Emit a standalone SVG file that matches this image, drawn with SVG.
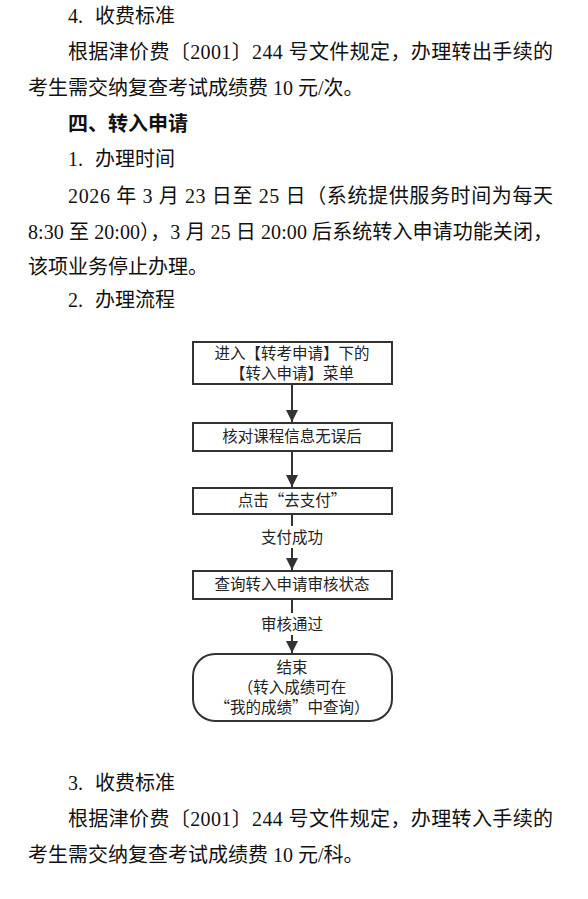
<svg xmlns="http://www.w3.org/2000/svg" width="588" height="899" viewBox="0 0 588 899">
<defs>
<style>
.b{font-family:"Liberation Serif","Noto Sans CJK SC",serif;font-size:20px;fill:#111}
.h{font-family:"Noto Sans CJK SC",sans-serif;font-size:20px;font-weight:bold;fill:#111}
.f{font-family:"Noto Sans CJK SC",sans-serif;font-size:15.5px;fill:#222;text-anchor:middle}
.box{fill:#fff;stroke:#333;stroke-width:2}
.ln{stroke:#333;stroke-width:2;fill:none}
</style>
<marker id="ar" viewBox="0 0 12 12" refX="12" refY="6" markerWidth="12" markerHeight="12" markerUnits="userSpaceOnUse" orient="auto">
<path d="M0,0 L12,6 L0,12 z" fill="#333"/>
</marker>
</defs>
<rect width="588" height="899" fill="#fff"/>
<g id="text-top">
<text class="b" x="68" y="23">4.</text><text class="b" x="95" y="23">收费标准</text>
<text class="b" x="68" y="59" textLength="485" lengthAdjust="spacing">根据津价费〔2001〕244 号文件规定，办理转出手续的</text>
<text class="b" x="28" y="95">考生需交纳复查考试成绩费 10 元/次。</text>
<text class="h" x="68" y="131">四、转入申请</text>
<text class="b" x="68" y="166">1.</text><text class="b" x="95" y="166">办理时间</text>
<text class="b" x="68" y="203" textLength="485" lengthAdjust="spacing">2026 年 3 月 23 日至 25 日（系统提供服务时间为每天</text>
<text class="b" x="28" y="239" textLength="525" lengthAdjust="spacing">8:30 至 20:00），3 月 25 日 20:00 后系统转入申请功能关闭，</text>
<text class="b" x="28" y="274">该项业务停止办理。</text>
<text class="b" x="68" y="307">2.</text><text class="b" x="95" y="307">办理流程</text>
</g>
<g id="connectors">
<line class="ln" x1="292" y1="384" x2="292" y2="422" marker-end="url(#ar)"/>
<line class="ln" x1="292" y1="451" x2="292" y2="487" marker-end="url(#ar)"/>
<line class="ln" x1="292" y1="514" x2="292" y2="526"/>
<line class="ln" x1="292" y1="548" x2="292" y2="570" marker-end="url(#ar)"/>
<line class="ln" x1="292" y1="599" x2="292" y2="613"/>
<line class="ln" x1="292" y1="635" x2="292" y2="653" marker-end="url(#ar)"/>
<text class="f" x="292" y="543">支付成功</text>
<text class="f" x="292" y="630">审核通过</text>
</g>
<g id="n1"><rect class="box" x="193" y="342" width="199" height="42"/>
<text class="f" x="292" y="359">进入【转考申请】下的</text>
<text class="f" x="292" y="379">【转入申请】菜单</text></g>
<g id="n2"><rect class="box" x="193" y="423" width="199" height="28"/>
<text class="f" x="292" y="442">核对课程信息无误后</text></g>
<g id="n3"><rect class="box" x="193" y="488" width="199" height="26"/>
<text class="f" x="292" y="506">点击“去支付”</text></g>
<g id="n4"><rect class="box" x="193" y="571" width="199" height="28"/>
<text class="f" x="292" y="590">查询转入申请审核状态</text></g>
<g id="n5"><rect class="box" x="193" y="654" width="199" height="67" rx="22" ry="22"/>
<text class="f" x="292" y="673">结束</text>
<text class="f" x="292" y="693">（转入成绩可在</text>
<text class="f" x="292" y="713">“我的成绩”中查询）</text></g>
<g id="text-bottom">
<text class="b" x="68" y="790">3.</text><text class="b" x="95" y="790">收费标准</text>
<text class="b" x="68" y="826" textLength="485" lengthAdjust="spacing">根据津价费〔2001〕244 号文件规定，办理转入手续的</text>
<text class="b" x="28" y="862">考生需交纳复查考试成绩费 10 元/科。</text>
</g>
</svg>
